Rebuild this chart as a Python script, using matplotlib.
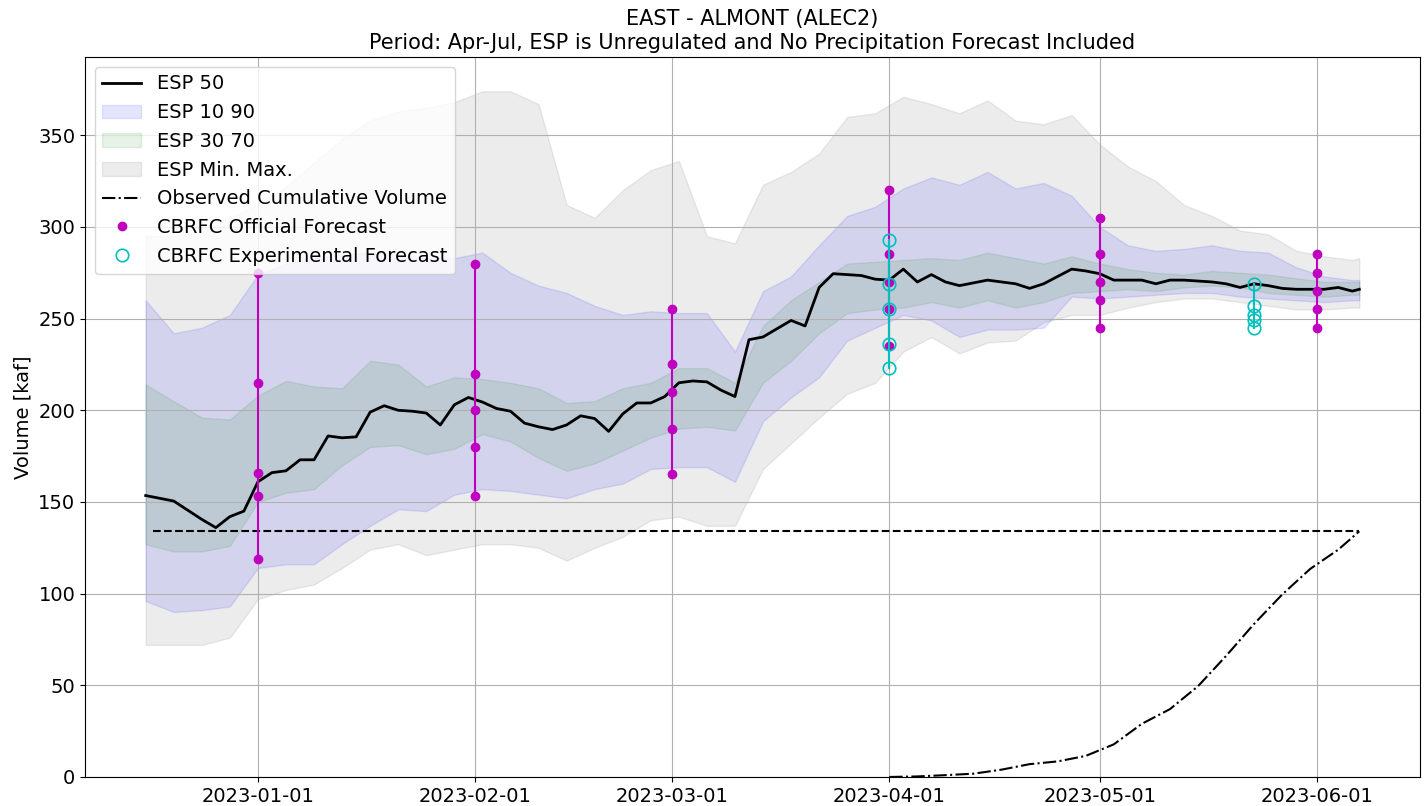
"""ESP forecast plume for EAST - ALMONT (ALEC2), Apr-Jul volume."""

import matplotlib
matplotlib.use("Agg")
import matplotlib.pyplot as plt
import matplotlib.dates as mdates
import pandas as pd

# ESP bands, sampled every 4 days (last point Jun 7)
band_dates = pd.date_range("2022-12-16", "2023-06-06", freq="4D").append(
    pd.DatetimeIndex(["2023-06-07"]))
esp_max = [295, 295, 298, 305, 312, 322, 335, 348, 358, 363, 365, 368, 374, 374, 367,
           312, 305, 320, 331, 336, 295, 291, 323, 330, 340, 360, 362, 371, 367, 362,
           369, 358, 356, 361, 345, 333, 325, 312, 306, 298, 296, 287, 284, 282, 283]
esp_p90 = [260, 242, 245, 252, 274, 280, 283, 285, 286, 285, 283, 283, 286, 275, 268,
           264, 257, 252, 254, 253, 253, 232, 265, 273, 290, 306, 311, 321, 327, 323,
           330, 321, 324, 317, 300, 290, 287, 288, 290, 287, 286, 278, 273, 271, 271]
esp_p70 = [214, 205, 196, 195, 208, 216, 213, 212, 227, 225, 213, 218, 217, 215, 212,
           204, 205, 212, 215, 223, 223, 215, 246, 260, 270, 280, 281, 282, 283, 282,
           286, 283, 280, 284, 280, 277, 275, 274, 276, 275, 274, 272, 270, 270, 270]
esp_p30 = [127, 123, 123, 126, 150, 155, 157, 170, 180, 181, 176, 179, 187, 183, 174,
           167, 171, 178, 185, 190, 191, 189, 215, 227, 242, 253, 255, 256, 259, 256,
           260, 256, 259, 264, 265, 266, 265, 267, 268, 267, 264, 263, 262, 263, 263]
esp_p10 = [96, 90, 91, 93, 114, 116, 116, 127, 137, 146, 145, 154, 157, 156, 154,
           152, 157, 160, 168, 169, 169, 161, 194, 207, 218, 238, 245, 252, 249, 240,
           244, 244, 245, 262, 261, 262, 263, 264, 264, 262, 261, 260, 259, 260, 260]
esp_min = [72, 72, 72, 76, 97, 102, 105, 114, 124, 127, 121, 124, 127, 127, 125,
           118, 125, 131, 140, 142, 137, 137, 168, 182, 196, 209, 215, 232, 240, 231,
           237, 238, 248, 252, 252, 256, 259, 261, 261, 259, 257, 255, 255, 256, 256]

# ESP median, every 2 days
p50_dates = pd.date_range("2022-12-16", "2023-06-06", freq="2D").append(
    pd.DatetimeIndex(["2023-06-07"]))
esp_p50 = [153.5, 152, 150.5, 145.5, 140.5, 136, 142, 145, 161, 166, 167, 173, 173, 186,
           185, 185.5, 199, 202.5, 200, 199.5, 198.5, 192, 203, 207, 204.5, 201, 199.5,
           193, 191, 189.5, 192, 197, 195.5, 188.5, 198, 204, 204, 207.5, 215, 216,
           215.5, 211, 207.5, 238.5, 240, 244.5, 249, 246, 267, 274.5, 274, 273.5,
           271.5, 271, 277, 270, 274, 270, 268, 269.5, 271, 270, 269, 266.5, 269, 273,
           277, 276, 274.5, 271, 271, 271, 269, 271, 271, 270.5, 270, 269, 267, 269,
           268, 266.5, 266, 266, 266, 267, 265, 266]

# observed cumulative volume since Apr 1
obs_dates = pd.date_range("2023-04-01", "2023-06-04", freq="4D").append(
    pd.DatetimeIndex(["2023-06-07"]))
obs_vals = [0, 0.3, 1, 1.8, 4, 7, 8.5, 11.5, 17.8, 29, 37, 49.5, 66, 83.5, 99.5,
            113.5, 124, 134]
total_line_start = "2022-12-17"

# CBRFC forecasts
official_dates = ["2023-01-01", "2023-02-01", "2023-03-01", "2023-04-01",
                  "2023-05-01", "2023-06-01"]
official_vals = [[119, 153, 166, 215, 275],
                 [153, 180, 200, 220, 280],
                 [165, 190, 210, 225, 255],
                 [235, 255, 270, 285, 320],
                 [245, 260, 270, 285, 305],
                 [245, 255, 265, 275, 285]]
experimental_dates = ["2023-04-01", "2023-05-23"]
experimental_vals = [[223, 236, 255, 269, 293],
                     [245, 249, 252, 257, 269]]

plt.rcParams["font.size"] = 14

fig = plt.figure(figsize=(14.26, 8.06), dpi=100)
ax = fig.add_axes([0.0596, 0.036, 0.9362, 0.8933])

h_minmax = ax.fill_between(band_dates, esp_min, esp_max, color="gray", alpha=0.15,
                           label="ESP Min. Max.")
h_1090 = ax.fill_between(band_dates, esp_p10, esp_p90, color="b", alpha=0.1,
                         label="ESP 10 90")
h_3070 = ax.fill_between(band_dates, esp_p30, esp_p70, color="g", alpha=0.1,
                         label="ESP 30 70")
h_50, = ax.plot(p50_dates, esp_p50, "k-", lw=2, label="ESP 50")

ax.plot([pd.Timestamp(total_line_start), obs_dates[-1]], [obs_vals[-1]] * 2,
        "k--", lw=1.5)
h_obs, = ax.plot(obs_dates, obs_vals, "k-.", lw=1.5, label="Observed Cumulative Volume")

for d, vals in zip(official_dates, official_vals):
    x = [pd.Timestamp(d)] * len(vals)
    ax.plot(x, vals, "m-", lw=1.5)
    h_off, = ax.plot(x, vals, "mo", ms=6, label="CBRFC Official Forecast")

for d, vals in zip(experimental_dates, experimental_vals):
    x = [pd.Timestamp(d)] * len(vals)
    ax.plot(x, vals, "c-", lw=1.5)
    h_exp, = ax.plot(x, vals, "co", ms=9, mfc="none", mew=1.2,
                     label="CBRFC Experimental Forecast")

ax.set_ylim(bottom=0)
ax.xaxis.set_major_locator(mdates.MonthLocator())
ax.xaxis.set_major_formatter(mdates.DateFormatter("%Y-%m-%d"))
ax.set_ylabel("Volume [kaf]")
ax.set_title("EAST - ALMONT (ALEC2)\nPeriod: Apr-Jul, ESP is Unregulated and No "
             "Precipitation Forecast Included", fontsize=15)
ax.grid(True)
ax.legend(handles=[h_50, h_1090, h_3070, h_minmax, h_obs, h_off, h_exp],
          loc="upper left", fontsize=14)

fig.savefig("out.png", dpi=100)
